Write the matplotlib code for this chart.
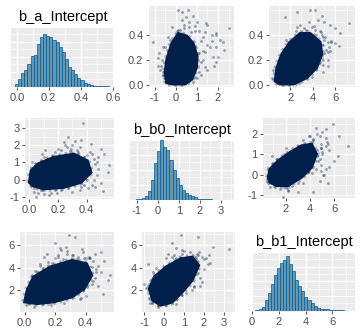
import numpy as np
import matplotlib.pyplot as plt
from matplotlib.ticker import MultipleLocator, FormatStrFormatter

plt.rcParams['font.family'] = ['Liberation Sans', 'DejaVu Sans']
plt.rcParams['axes.unicode_minus'] = False

titles = ['b_a_Intercept', 'b_b0_Intercept', 'b_b1_Intercept']

# histogram counts, 30 bins each
a_counts = [18, 49, 91, 112, 150, 203, 214, 287, 333, 350, 343, 333, 315, 298, 266,
            231, 186, 133, 109, 88, 60, 46, 25, 21, 12, 8, 6, 4, 3, 2]
b0_counts = [2, 4, 12, 28, 60, 132, 248, 324, 400, 356, 332, 264, 196, 144, 96,
             68, 44, 32, 24, 16, 8, 7, 4, 2, 2, 1, 1, 1, 0, 1]
b1_counts = [2, 11, 26, 74, 122, 181, 241, 289, 326, 348, 370, 315, 270, 211, 167,
             133, 96, 70, 52, 33, 19, 15, 11, 9, 6, 5, 4, 3, 2, 1]
a_range = (-0.011, 0.573)
b0_range = (-1.05, 3.32)
b1_range = (0.25, 7.12)

# draws around the edge of the clouds, chains shown above the diagonal
up_a = [0.6, 0.585, 0.6, 0.34, 0.34, 0.28, 0.49, 0.41, 0.54, 0.3, 0.15, 0.05, 0.45,
        0.2, 0.3, 0.25, 0.12, 0.35, 0.15, 0.25, 0.1, 0.44, 0.46, 0.43, 0.48, 0.38, 0.2, 0.1,
        0.05, 0.3, 0.02, 0.4, 0.18, 0.5, 0.27, 0.08, 0.33, 0.52, 0.12, 0.22, 0.36, 0.42, 0.06,
        0.42, 0.44, 0.38, 0.32, 0.26, 0.18, 0.1, 0.06, 0.03, 0.08, 0.2, 0.3, 0.38, 0.45,
        0.47, 0.4, 0.22, 0.14, 0.05, 0.02, 0.12, 0.28, 0.34, 0.24, 0.16, 0.09, 0.43, 0.35,
        0.5, 0.46, 0.04, 0.13, 0.27, 0.36, 0.15, 0.55, 0.01, 0.31, 0.21, 0.48]
up_b0 = [0.1, 0.27, 0.59, -1.08, 2.25, 2.3, 1.43, 1.92, 0.5, 1.92, -0.87, -0.3, 2.5,
         1.3, 1.6, 1.1, 1.5, 1.2, -0.7, -0.8, -0.6, 0.2, 0.6, 0.9, 0.4, 0.0, 0.3, 0.5,
         -0.55, -0.6, 0.8, 1.7, 1.9, 1.0, -0.4, 1.2, 0.7, 0.3, -0.2, 2.0, -0.3, 1.4, 0.2,
         0.7, 0.1, 1.3, 1.5, 1.4, 1.2, 1.1, 0.9, 0.6, -0.6, -0.65, -0.5, -0.4, 0.4,
         0.9, 1.9, 1.75, 1.4, 1.0, -0.45, -0.75, 0.0, 0.4, -0.3, 0.2, -0.4, 1.1, 1.7,
         0.6, -0.2, 0.3, 0.9, 1.3, 2.1, 1.8, 0.8, -0.2, 0.9, -0.85, 1.5]
up_b1 = [3.77, 2.6, 4.2, 1.8, 5.37, 4.5, 7.15, 6.4, 1.56, 4.0, 4.27, 0.44, 5.92,
         4.9, 5.4, 5.0, 3.6, 5.6, 1.5, 2.2, 1.1, 3.4, 3.9, 4.6, 2.9, 5.1, 5.3, 4.9,
         2.5, 1.9, 1.3, 4.3, 3.9, 5.0, 5.5, 2.7, 6.0, 4.5, 0.5, 4.6, 1.6, 3.0, 3.9,
         4.7, 4.2, 4.9, 4.9, 5.3, 4.6, 3.2, 2.4, 1.0, 0.7, 2.0, 2.3, 3.0, 3.2,
         4.1, 4.8, 4.3, 3.4, 1.9, 1.4, 2.2, 5.2, 5.6, 4.8, 4.9, 3.4, 2.5, 3.4,
         3.7, 2.6, 0.7, 0.9, 2.0, 5.0, 5.3, 4.8, 2.8, 6.3, 3.0, 5.5]

# draws around the edge of the clouds, chains shown below the diagonal
lo_a = [0.375, 0.27, 0.5, 0.52, 0.556, 0.545, 0.51, 0.035, 0.08, 0.22, 0.29, 0.33, 0.2,
        0.145, 0.32, 0.1, 0.05, 0.06,
        0.45, 0.47, 0.44, 0.46, 0.35, 0.25, 0.18, 0.3, 0.15, 0.22, 0.02, 0.01, 0.12, 0.38,
        0.42, 0.28, 0.2, 0.12, 0.09, 0.16, 0.26, 0.33, 0.4, 0.48, 0.36, 0.05, 0.03, 0.1,
        0.24, 0.43, 0.5, 0.14, 0.31, 0.39, 0.07,
        0.4, 0.34, 0.12, 0.07, 0.03, 0.08, 0.18, 0.27, 0.38, 0.45, 0.47, 0.44, 0.28, 0.22,
        0.15, 0.1, 0.05, 0.04, 0.02, 0.09, 0.2, 0.3, 0.37, 0.26, 0.17, 0.42, 0.35, 0.46,
        0.24, 0.13, 0.01, 0.06, 0.33, 0.29, 0.41, 0.48, 0.19, 0.11, 0.36, 0.23]
lo_b0 = [3.3, 2.46, 1.78, 1.49, 0.85, 0.42, -0.64, -0.74, 1.1, 1.73, 0.83, 1.7, 0.42,
         0.2, 2.25, -0.83, -1.0, -0.33,
         1.2, 0.3, -0.3, 0.9, 1.9, 2.0, 1.6, -0.7, -0.75, -0.6, 0.2, -0.3, 0.6, 1.3,
         1.6, 1.0, 0.1, -0.4, -0.55, 1.4, 1.9, 1.5, 0.0, 0.6, -0.45, 0.9, 0.6, 1.3,
         2.2, 2.1, -0.2, -0.9, 0.5, 0.8, 0.0,
         1.45, 1.6, 1.2, 0.9, -0.5, -0.6, -0.6, -0.5, -0.3, 0.0, 1.0, 1.5, 1.65, 1.35,
         0.8, 0.3, -0.1, 0.5, 1.0, 1.5, 1.8, 2.0, 0.2, -0.2, 0.1, 0.6, -0.6, -0.4,
         0.9, 0.4, 0.3, -0.8, 1.1, 1.8, -0.5, 1.3, -0.75, 1.7, 2.3, 0.6]
lo_b1 = [5.7, 5.85, 5.4, 4.6, 3.33, 2.9, 1.7, 0.9, 2.6, 5.1, 6.9, 6.7, 6.23,
         5.25, 5.1, 4.37, 2.59, 0.52,
         4.6, 3.9, 2.6, 5.2, 5.0, 4.8, 4.4, 1.9, 1.3, 1.1, 0.9, 0.7, 0.75, 5.4,
         5.0, 5.5, 4.9, 4.0, 3.6, 2.0, 2.7, 2.3, 1.5, 2.4, 1.2, 1.6, 1.2, 3.2,
         4.3, 4.9, 3.6, 2.2, 5.1, 4.9, 3.7,
         4.9, 4.8, 3.6, 2.9, 1.4, 0.9, 1.8, 1.9, 2.0, 2.8, 3.6, 4.1, 5.2, 5.0,
         4.5, 4.2, 3.3, 2.6, 2.1, 2.4, 3.1, 3.9, 1.3, 0.9, 0.7, 4.9, 3.0, 3.1,
         5.6, 5.0, 1.7, 2.0, 1.8, 2.4, 2.3, 4.2, 2.6, 3.5, 4.4, 5.8]

# outline of the solid centre of each cloud (x values, y values)
core_b0_a = ([-0.44, -0.52, -0.44, -0.2, 0.11, 0.51, 0.82, 1.01, 0.98, 0.75, 0.43, -0.13],
             [0.013, 0.095, 0.2, 0.33, 0.41, 0.39, 0.33, 0.23, 0.135, 0.04, 0.003, 0.003])
core_b1_a = ([0.68, 0.83, 1.27, 2.0, 2.88, 3.77, 4.65, 4.8, 4.35, 3.47, 2.3, 1.1],
             [0.027, 0.135, 0.245, 0.34, 0.41, 0.41, 0.34, 0.245, 0.135, 0.054, 0.003, 0.003])
core_b1_b0 = ([0.57, 0.71, 1.39, 2.35, 3.32, 4.14, 4.55, 4.14, 3.32, 2.21, 1.26, 0.71],
              [-0.13, 0.28, 0.69, 1.1, 1.43, 1.51, 1.02, 0.36, -0.13, -0.54, -0.54, -0.38])
core_a_b0 = ([0.0, 0.012, 0.058, 0.17, 0.31, 0.405, 0.43, 0.36, 0.24, 0.1, 0.024],
             [-0.16, 0.52, 0.91, 1.3, 1.49, 1.1, 0.42, -0.16, -0.45, -0.54, -0.35])
core_a_b1 = ([0.0, 0.016, 0.058, 0.167, 0.31, 0.405, 0.44, 0.39, 0.31, 0.19, 0.08],
             [0.96, 2.0, 3.18, 4.07, 4.66, 4.37, 3.33, 2.14, 1.4, 0.96, 0.81])
core_b0_b1 = ([-0.58, -0.75, -0.5, 0.085, 0.83, 1.42, 1.75, 1.42, 0.92, 0.42, -0.17],
              [1.11, 2.14, 3.18, 4.07, 4.8, 4.96, 4.22, 2.89, 1.85, 0.96, 0.67])

a_ticks = [0.0, 0.2, 0.4]
b0_ticks = [-1, 0, 1, 2]
b1_ticks = [2, 4, 6]

navy = '#011f4b'

fig = plt.figure(figsize=(3.6, 3.36), dpi=100)


def panel(left, top, right, bottom):
    # box given in pixels from the top left corner
    return fig.add_axes([left / 360, 1 - bottom / 336, (right - left) / 360, (bottom - top) / 336])


def gg_style(ax, xticks, xfmt, yticks=None, yfmt=None):
    ax.set_facecolor('#EBEBEB')
    for s in ax.spines.values():
        s.set_visible(False)
    ax.set_xticks(xticks)
    ax.xaxis.set_minor_locator(MultipleLocator((xticks[1] - xticks[0]) / 2))
    ax.xaxis.set_major_formatter(FormatStrFormatter(xfmt))
    ax.set_yticks(yticks)
    ax.yaxis.set_minor_locator(MultipleLocator((yticks[1] - yticks[0]) / 2))
    if yfmt:
        ax.yaxis.set_major_formatter(FormatStrFormatter(yfmt))
    ax.grid(which='major', color='white', lw=0.8)
    ax.grid(which='minor', color='white', lw=0.4)
    ax.set_axisbelow(True)
    ax.tick_params(which='major', length=2.5, width=0.6, color='#333333',
                   labelsize=8, labelcolor='#4D4D4D', pad=1.5)
    ax.tick_params(which='minor', length=0)


def hist_panel(box, counts, rng, xlim, xticks, xfmt, title):
    ax = panel(*box)
    edges = np.linspace(rng[0], rng[1], len(counts) + 1)
    ax.bar(edges[:-1], counts, width=np.diff(edges), align='edge',
           color='#6497b1', edgecolor='#005b96', lw=0.5)
    ax.set_xlim(*xlim)
    ax.set_ylim(-0.005 * max(counts), max(counts))
    gg_style(ax, xticks, xfmt, [0, 100, 200, 300, 400])
    ax.tick_params(axis='y', length=0, labelleft=False)
    ax.set_title(title, fontsize=10.5, pad=4)
    return ax


def pair_panel(box, x, y, core, xlim, ylim, xticks, xfmt, yticks, yfmt):
    ax = panel(*box)
    # speckled rim then the solid centre
    ax.fill(core[0], core[1], facecolor='none', edgecolor=navy, lw=4.5,
            ls=(0, (0.4, 0.6)), alpha=0.35)
    ax.fill(core[0], core[1], facecolor=navy, edgecolor=navy, lw=2)
    ax.scatter(x, y, s=4, color=navy, alpha=0.4, lw=0)
    ax.set_xlim(*xlim)
    ax.set_ylim(*ylim)
    gg_style(ax, xticks, xfmt, yticks, yfmt)
    return ax


# diagonal
hist_panel((11, 27, 114, 87), a_counts, a_range, (-0.036, 0.607), [0.0, 0.2, 0.4, 0.6], '%.1f', titles[0])
hist_panel((130, 140, 234, 200), b0_counts, b0_range, (-1.33, 3.63), [-1, 0, 1, 2, 3], '%d', titles[1])
hist_panel((252, 252, 355, 311), b1_counts, b1_range, (-0.01, 7.7), [0, 2, 4, 6], '%d', titles[2])

# above the diagonal
pair_panel((149, 6, 234, 87), up_b0, up_a, core_b0_a, (-1.28, 2.76), (-0.02, 0.63),
           b0_ticks, '%d', a_ticks, '%.1f')
pair_panel((269, 6, 355, 87), up_b1, up_a, core_b1_a, (0.14, 7.72), (-0.02, 0.63),
           b1_ticks, '%d', a_ticks, '%.1f')
pair_panel((263, 118, 355, 198), up_b1, up_b0, core_b1_b0, (0.14, 7.72), (-1.15, 2.8),
           b1_ticks, '%d', b0_ticks, '%d')

# below the diagonal
pair_panel((25, 118, 114, 199), lo_a, lo_b0, core_a_b0, (-0.03, 0.59), (-1.12, 3.58),
           a_ticks, '%.1f', [-1, 0, 1, 2, 3], '%d')
pair_panel((20, 232, 114, 312), lo_a, lo_b1, core_a_b1, (-0.03, 0.585), (0.07, 7.18),
           a_ticks, '%.1f', b1_ticks, '%d')
pair_panel((142, 232, 235, 312), lo_b0, lo_b1, core_b0_b1, (-1.12, 3.58), (0.07, 7.18),
           [-1, 0, 1, 2, 3], '%d', b1_ticks, '%d')

fig.savefig('out.png', dpi=100)
